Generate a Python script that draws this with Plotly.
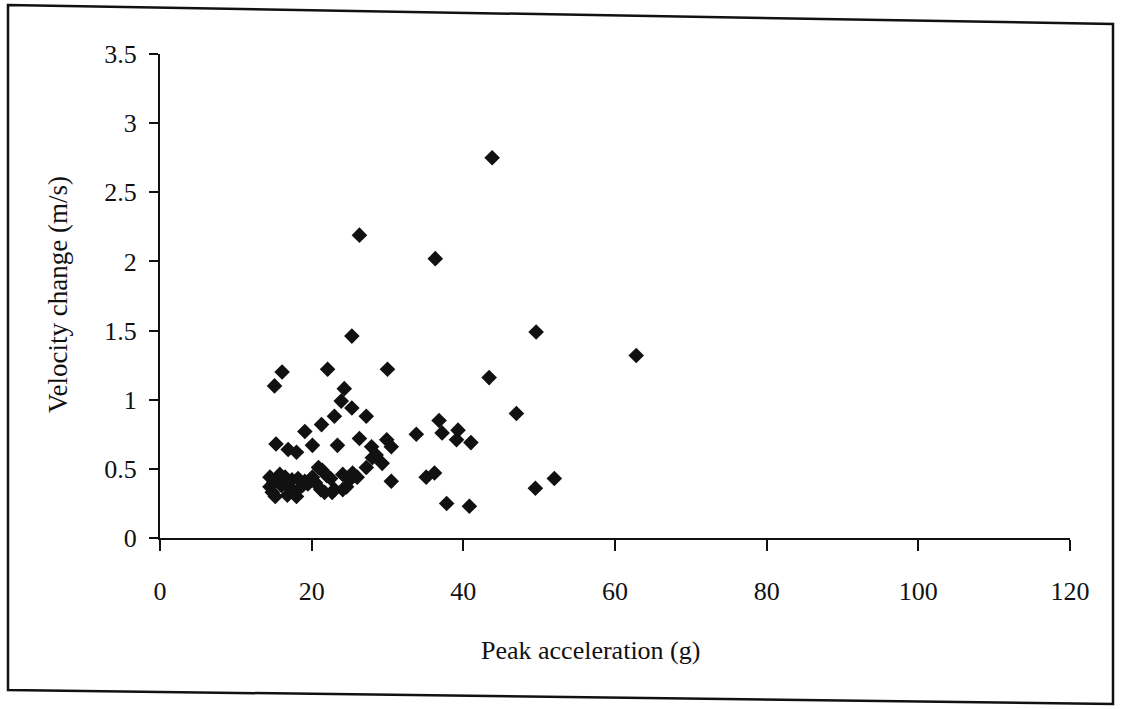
import plotly.graph_objects as go

# Data
peak_acceleration_g = [
    43.8, 26.3, 36.3, 49.6, 62.8, 25.3, 16.1, 15.1, 22.1, 30.0,
    43.4, 24.3, 23.9, 25.3, 23.0, 27.2, 21.3, 19.1, 47.0, 36.8,
    37.2, 39.3, 39.1, 41.0, 33.8, 15.3, 16.9, 18.0, 20.1, 23.4,
    26.3, 27.9, 29.9, 30.5, 28.0, 27.2, 29.3, 30.5, 35.1, 36.2,
    37.8, 40.8, 49.5, 52.0, 21.4, 20.1, 19.1, 21.7, 22.7, 24.1,
    25.4, 24.6, 24.1, 14.5, 14.5, 14.8, 15.8, 16.0, 16.8, 17.4,
    18.2, 20.9, 21.2, 25.0, 15.2, 18.0, 19.5, 26.0, 28.5,
    15.5, 16.5, 17.0, 18.8, 19.8, 20.5, 22.0, 22.5, 23.0, 17.8, 15.0,
]
velocity_change_ms = [
    2.75, 2.19, 2.02, 1.49, 1.32, 1.46, 1.20, 1.10, 1.22, 1.22,
    1.16, 1.08, 0.99, 0.94, 0.88, 0.88, 0.82, 0.77, 0.90, 0.85,
    0.76, 0.78, 0.71, 0.69, 0.75, 0.68, 0.64, 0.62, 0.67, 0.67,
    0.72, 0.66, 0.71, 0.66, 0.58, 0.51, 0.54, 0.41, 0.44, 0.47,
    0.25, 0.23, 0.36, 0.43, 0.49, 0.44, 0.41, 0.33, 0.33, 0.46,
    0.47, 0.37, 0.35, 0.44, 0.37, 0.33, 0.46, 0.38, 0.31, 0.42,
    0.43, 0.51, 0.35, 0.42, 0.30, 0.30, 0.39, 0.44, 0.60,
    0.41, 0.44, 0.37, 0.38, 0.42, 0.40, 0.45, 0.43, 0.35, 0.33, 0.40,
]
x_ticks = [0, 20, 40, 60, 80, 100, 120]
y_ticks = [0, 0.5, 1, 1.5, 2, 2.5, 3, 3.5]
y_tick_text = ["0", "0.5", "1", "1.5", "2", "2.5", "3", "3.5"]

W, H = 1130, 709
L, R, T, B = 160, 1070, 54, 538


def px(x):
    return (x - L) / (R - L)


def py(y):
    return (B - y) / (B - T)


FONT = "Liberation Serif"

fig = go.Figure()
fig.add_trace(go.Scatter(
    x=peak_acceleration_g, y=velocity_change_ms, mode="markers",
    marker=dict(symbol="diamond", size=12, color="#111111",
                line=dict(width=0)),
    showlegend=False, cliponaxis=False,
))

fig.update_layout(
    width=W, height=H,
    margin=dict(l=L, r=W - R, t=T, b=H - B),
    paper_bgcolor="white", plot_bgcolor="white",
    font=dict(family=FONT, color="#111111", size=25),
    xaxis=dict(range=[0, 120], tickvals=x_ticks, showgrid=False, zeroline=False,
               showline=True, linecolor="#111111", linewidth=2,
               ticks="outside", ticklen=11, tickwidth=2, tickcolor="#111111",
               ticklabelstandoff=18, tickfont=dict(family=FONT, size=26)),
    yaxis=dict(range=[0, 3.5], tickvals=y_ticks, ticktext=y_tick_text,
               showgrid=False, zeroline=False,
               showline=True, linecolor="#111111", linewidth=2,
               ticks="outside", ticklen=9, tickwidth=2, tickcolor="#111111",
               ticklabelstandoff=7, tickfont=dict(family=FONT, size=26)),
    annotations=[
        dict(text="Peak acceleration (g)", x=px(590), y=py(650), xref="paper", yref="paper",
             showarrow=False, font=dict(family=FONT, size=26), xanchor="center", yanchor="middle"),
        dict(text="Velocity change (m/s)", x=px(58), y=py(295), xref="paper", yref="paper",
             showarrow=False, textangle=-90, font=dict(family=FONT, size=27),
             xanchor="center", yanchor="middle"),
    ],
    shapes=[
        dict(type="path", xref="paper", yref="paper",
             path=f"M {px(8)},{py(5)} L {px(1113)},{py(24)} L {px(1113)},{py(704)} L {px(8)},{py(690)} Z",
             line=dict(color="#111111", width=2.5)),
    ],
)

fig.write_html("out.html")
